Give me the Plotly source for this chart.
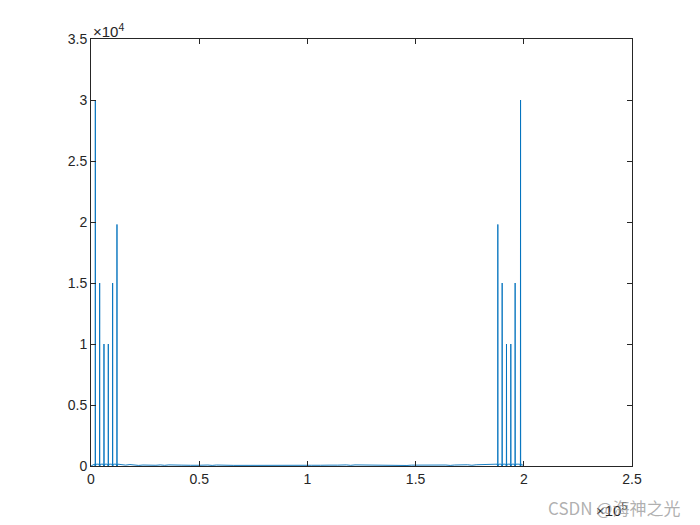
import plotly.graph_objects as go

# Spike positions (sample index) and amplitudes
spike_x = [2000, 4000, 6000, 8000, 10000, 12000,
           188000, 190000, 192000, 194000, 196000, 198500]
spike_y = [30000, 15000, 10000, 10000, 15000, 19800,
           19800, 15000, 10000, 10000, 15000, 30000]
# low-level leakage visible along the baseline
low_x = [16000, 22000, 28000, 34000, 40000, 48000, 56000, 64000,
         104000, 112000, 120000, 128000, 136000, 146000, 156000, 166000, 176000, 184000]
low_y = [120, 80, 60, 90, 70, 60, 80, 50,
         60, 70, 90, 80, 60, 70, 90, 80, 100, 120]
x_end = 200000

x_tickvals = [0, 50000, 100000, 150000, 200000, 250000]
x_ticktext = ["0", "0.5", "1", "1.5", "2", "2.5"]
y_tickvals = [0, 5000, 10000, 15000, 20000, 25000, 30000, 35000]
y_ticktext = ["0", "0.5", "1", "1.5", "2", "2.5", "3", "3.5"]

# build a single polyline: baseline with narrow spikes
pts = [(0, 0), (x_end, 0)]
for sx, sy in zip(spike_x, spike_y):
    pts += [(sx - 400, 150), (sx - 60, 0), (sx, sy), (sx + 60, 0), (sx + 400, 150)]
for lx, ly in zip(low_x, low_y):
    pts += [(lx - 2000, ly), (lx, ly * 0.6), (lx + 2000, ly)]
pts.sort()
xs = [p[0] for p in pts]
ys = [p[1] for p in pts]

fig = go.Figure()
fig.add_trace(go.Scatter(x=xs, y=ys, mode="lines",
                         line=dict(color="#0072BD", width=0.9),
                         hoverinfo="skip", showlegend=False))

font = dict(family="Liberation Sans, Arial, sans-serif", size=14, color="#262626")
axis_common = dict(showline=True, linecolor="#262626", linewidth=1, mirror="ticks",
                   ticks="inside", ticklen=5, tickcolor="#262626", showgrid=False,
                   zeroline=False, tickfont=font)
fig.update_layout(
    width=692, height=517,
    margin=dict(l=83, r=68, t=31, b=59),
    paper_bgcolor="white", plot_bgcolor="white",
    xaxis=dict(range=[0, 250000], tickvals=x_tickvals, ticktext=x_ticktext, **axis_common),
    yaxis=dict(range=[0, 35000], tickvals=y_tickvals, ticktext=y_ticktext, **axis_common),
    annotations=[
        dict(text="×10<sup>4</sup>", xref="paper", yref="paper", x=0, y=1,
             xanchor="left", yanchor="bottom", showarrow=False,
             font=dict(family=font["family"], size=15, color="#262626"), yshift=-3),
        dict(text="×10<sup>5</sup>", xref="paper", yref="paper", x=1, y=0,
             xanchor="right", yanchor="top", showarrow=False,
             font=dict(family=font["family"], size=15, color="#262626"), yshift=-32, xshift=-3),
        dict(text="CSDN @海神之光", xref="paper", yref="paper", x=1, y=0,
             xanchor="left", yanchor="top", showarrow=False, xshift=-86, yshift=-27,
             font=dict(family="Noto Sans CJK SC, sans-serif", size=17, color="rgba(150,150,150,0.75)")),
    ],
)
fig.write_html("out.html")
